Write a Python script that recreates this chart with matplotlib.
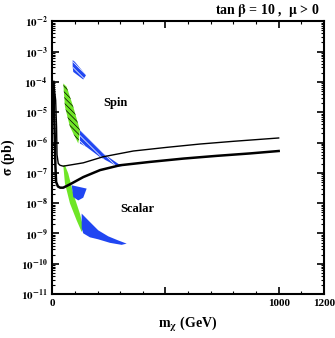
import numpy as np
import matplotlib
matplotlib.use("Agg")
import matplotlib.pyplot as plt
from matplotlib.ticker import FixedLocator, MultipleLocator, LogLocator, FuncFormatter, NullFormatter

plt.rcParams['font.family'] = ['Liberation Serif', 'DejaVu Serif']
plt.rcParams['font.weight'] = 'bold'
plt.rcParams['mathtext.fontset'] = 'stix'
plt.rcParams['hatch.linewidth'] = 0.5

# limit curves (mass in GeV, log10 sigma in pb)
thick_m = [5, 10, 14, 17, 25, 35, 48.6, 78, 137, 211, 299, 431, 579, 726, 873, 1000]
thick_logs = [-4.0, -5.5, -6.8, -7.3, -7.45, -7.49, -7.49, -7.38, -7.14, -6.91, -6.75,
              -6.64, -6.53, -6.44, -6.36, -6.28]
thin_m = [6, 15, 19, 21, 26.5, 34, 48.6, 137, 225, 358, 505, 652, 800, 1000]
thin_logs = [-4.0, -4.6, -5.5, -6.4, -6.69, -6.75, -6.78, -6.67, -6.47, -6.28, -6.16,
             -6.05, -5.96, -5.85]

# spin-dependent regions
spin_green_m = [48.6, 56.1, 78.2, 114.8, 122.3, 92.8, 63.6]
spin_green_logs = [-4.05, -4.82, -5.48, -6.03, -5.59, -4.82, -4.16]
spin_blue_m = [122.3, 181.1, 225.3, 306.5, 290.2, 210.7, 151.9, 122.3]
spin_blue_logs = [-5.59, -6.03, -6.36, -6.78, -6.80, -6.48, -6.15, -6.03]
spin_blue_top_m = [90.1, 100.3, 148.9, 136.9, 92.8, 90.1]
spin_blue_top_logs = [-3.28, -3.34, -3.78, -3.92, -3.67, -3.50]

# scalar regions
scalar_green_m = [48.6, 56.1, 78.2, 107.8, 129.9, 136.9, 122.3, 92.8, 70.7, 56.1]
scalar_green_logs = [-6.75, -7.35, -8.01, -8.57, -8.95, -8.79, -8.35, -7.68, -7.02, -6.75]
scalar_blue_small_m = [85.7, 151.9, 136.9, 114.8, 92.8]
scalar_blue_small_logs = [-7.41, -7.52, -7.82, -7.91, -7.80]
scalar_blue_m = [129.9, 159.0, 203.2, 247.3, 290.2, 328.6, 306.5, 254.9, 203.2, 166.5, 136.9, 129.9]
scalar_blue_logs = [-8.345, -8.567, -8.897, -9.095, -9.227, -9.336, -9.376, -9.310, -9.194,
                    -9.128, -8.996, -8.831]

GREEN = '#6fe626'
BLUE = '#2046f2'

fig = plt.figure(figsize=(3.35, 3.38), dpi=100)
ax = fig.add_axes([0.156, 0.130, 0.811, 0.807])


def region(m, logs, color, hatch_color=None):
    sig = 10.0 ** np.array(logs)
    ax.fill(m, sig, facecolor=color, edgecolor='none', zorder=2)
    if hatch_color is not None:
        ax.fill(m, sig, facecolor='none', edgecolor=hatch_color,
                hatch='\\' * 6, linewidth=0, zorder=2)


region(spin_green_m, spin_green_logs, GREEN, 'black')
region(spin_blue_m, spin_blue_logs, BLUE, 'white')
region(spin_blue_top_m, spin_blue_top_logs, BLUE, 'white')
region(scalar_green_m, scalar_green_logs, GREEN)
region(scalar_blue_small_m, scalar_blue_small_logs, BLUE)
region(scalar_blue_m, scalar_blue_logs, BLUE)

ax.plot(thick_m, 10.0 ** np.array(thick_logs), color='black', lw=1.8, zorder=3)
ax.plot(thin_m, 10.0 ** np.array(thin_logs), color='black', lw=1.0, zorder=3)

ax.set_yscale('log')
ax.set_xlim(0, 1200)
ax.set_ylim(1e-11, 1e-2)

ax.xaxis.set_major_locator(FixedLocator([0, 500, 1000, 1200]))
ax.set_xticklabels(['0', '', '1000', '1200'])
ax.xaxis.set_minor_locator(MultipleLocator(100))
ax.yaxis.set_major_locator(LogLocator(base=10, numticks=20))
ax.yaxis.set_minor_locator(LogLocator(base=10, subs=np.arange(2, 10), numticks=20))
ax.yaxis.set_minor_formatter(NullFormatter())
ax.yaxis.set_major_formatter(FuncFormatter(
    lambda v, p: r'$\mathbf{10^{%d}}$' % int(round(np.log10(v)))))

ax.tick_params(which='both', direction='in', top=True, right=True, labelsize=8)
ax.tick_params(which='major', length=5, width=1.2)
ax.tick_params(which='minor', length=2.5, width=0.8)
for s in ax.spines.values():
    s.set_linewidth(1.5)

ax.text(281, 10 ** -4.70, 'Spin', fontsize=9, fontweight='bold', ha='center', va='center')
ax.text(374, 10 ** -8.18, 'Scalar', fontsize=9, fontweight='bold', ha='center', va='center')

fig.text(0.955, 0.970, r'tan $\mathbf{\beta}$ = 10 ,  $\mathbf{\mu}$ > 0', fontsize=10,
         fontweight='bold', ha='right', va='center')
ax.set_xlabel(r'm$_{\mathbf{\chi}}$ (GeV)', fontsize=10, fontweight='bold', labelpad=5)
ax.set_ylabel(r'$\mathbf{\sigma}$ (pb)', fontsize=10, fontweight='bold')
ax.yaxis.set_label_coords(-0.128, 0.5)

fig.savefig('out.png', dpi=100)
